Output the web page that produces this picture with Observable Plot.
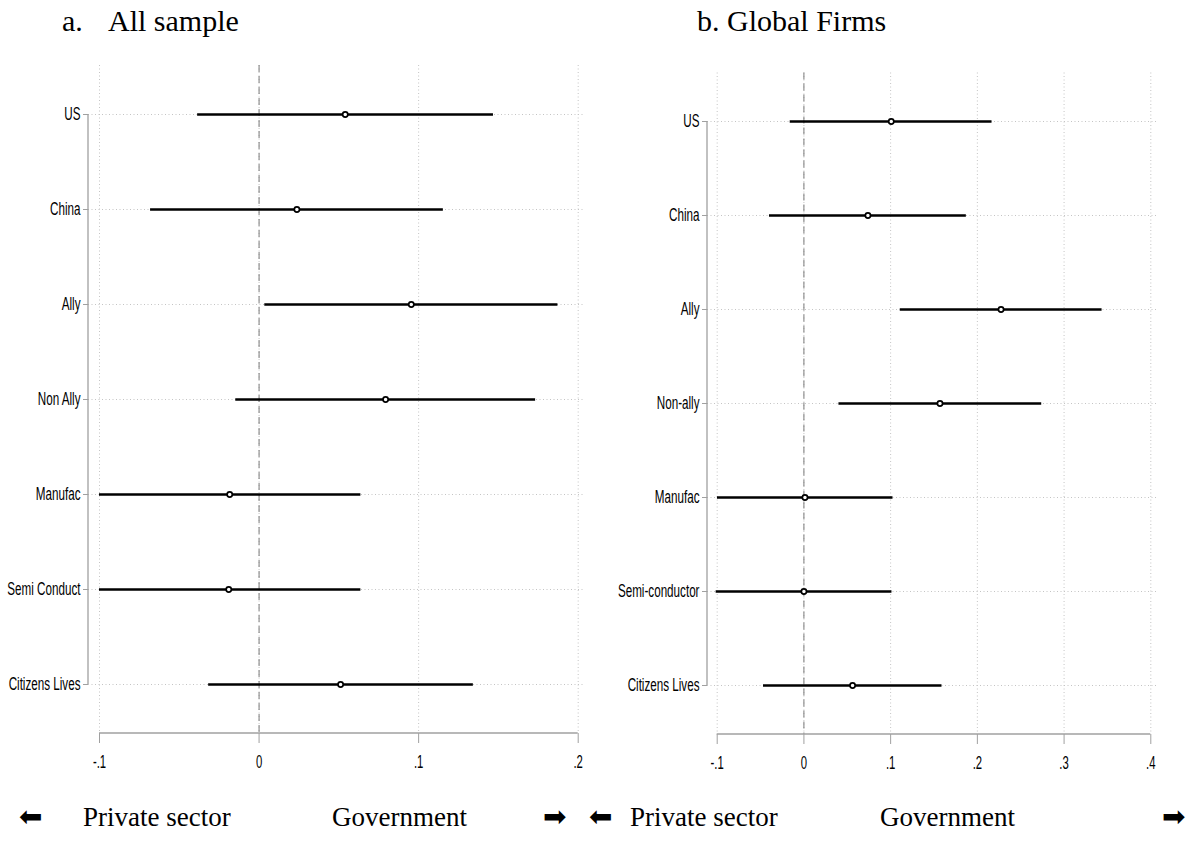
<!DOCTYPE html>
<html><head><meta charset="utf-8">
<script src="https://cdn.jsdelivr.net/npm/d3@7"></script>
<script src="https://cdn.jsdelivr.net/npm/@observablehq/plot@0.6"></script>
<style>
body{margin:0;background:#fff;}
#page{position:relative;width:1194px;height:841px;overflow:hidden;font-family:"Liberation Serif","Times New Roman",serif;color:#000;background:#fff;}
.panel{position:absolute;top:0;}
.t{position:absolute;font-size:27px;white-space:nowrap;line-height:1;}
.h{position:absolute;font-size:30px;white-space:nowrap;line-height:1;}
.arrow{position:absolute;font-family:"DejaVu Sans",sans-serif;font-size:28px;line-height:1.2;white-space:nowrap;}
</style></head><body>
<div id="page">
  <div class="h" style="left:62px;top:6px">a.</div>
  <div class="h" style="left:108px;top:6px">All sample</div>
  <div class="h" style="left:697px;top:6px">b. Global Firms</div>
  <div id="pa" class="panel" style="left:0px"></div>
  <div id="pb" class="panel" style="left:597px"></div>
  <div class="arrow" style="left:19px;top:800px">⬅</div>
  <div class="t" style="left:83px;top:804px">Private sector</div>
  <div class="t" style="left:332px;top:804px">Government</div>
  <div class="arrow" style="left:543px;top:800px">➡</div>
  <div class="arrow" style="left:589px;top:800px">⬅</div>
  <div class="t" style="left:630px;top:804px">Private sector</div>
  <div class="t" style="left:880px;top:804px">Government</div>
  <div class="arrow" style="left:1162px;top:800px">➡</div>
</div>
<script>
// Panel a: All sample
const categoriesA = ["US", "China", "Ally", "Non Ally", "Manufac", "Semi Conduct", "Citizens Lives"];
const estimateA = [0.054, 0.0237, 0.0954, 0.0793, -0.0184, -0.019, 0.0511];
const lowerA = [-0.0385, -0.068, 0.0036, -0.0146, -0.1, -0.1, -0.0316];
const upperA = [0.1469, 0.1155, 0.1873, 0.1733, 0.0638, 0.0638, 0.1343];
const ticksA = [-0.1, 0, 0.1, 0.2];
const tickLabelsA = ["-.1", "0", ".1", ".2"];

// Panel b: Global Firms
const categoriesB = ["US", "China", "Ally", "Non-ally", "Manufac", "Semi-conductor", "Citizens Lives"];
const estimateB = [0.1007, 0.0738, 0.2273, 0.1569, 0.0012, 0.0, 0.0561];
const lowerB = [-0.0158, -0.0397, 0.1111, 0.0404, -0.0997, -0.1012, -0.0466];
const upperB = [0.2169, 0.1873, 0.3438, 0.2742, 0.1027, 0.1015, 0.1592];
const ticksB = [-0.1, 0, 0.1, 0.2, 0.3, 0.4];
const tickLabelsB = ["-.1", "0", ".1", ".2", ".3", ".4"];

function panel(cats, est, lo, hi, ticks, tickLabels, layout) {
  const rows = cats.map((c, i) => ({cat: c, est: est[i], lo: lo[i], hi: hi[i]}));
  const gridStyle = {stroke: "#c4c4c4", strokeOpacity: 1, strokeWidth: 1, strokeDasharray: "1,2.5"};
  const axisLines = (index, scales, values, dim) => {
    const g = d3.create("svg:g").attr("stroke", "#a0a0a0").attr("stroke-width", 1.3).attr("fill", "none");
    const yb = dim.height - dim.marginBottom;
    g.append("line").attr("x1", scales.x(ticks[0])).attr("x2", scales.x(ticks[ticks.length - 1]))
      .attr("y1", yb).attr("y2", yb);
    g.append("line").attr("x1", dim.marginLeft).attr("x2", dim.marginLeft)
      .attr("y1", scales.y(cats[0])).attr("y2", scales.y(cats[cats.length - 1]));
    return g.node();
  };
  const svg = Plot.plot({
    width: layout.width, height: 800,
    marginLeft: layout.marginLeft, marginRight: layout.marginRight,
    marginTop: layout.marginTop, marginBottom: layout.marginBottom,
    style: {fontFamily: "'Liberation Sans', Arial, sans-serif", fontSize: "18px", background: "transparent", color: "black"},
    x: {domain: [ticks[0], ticks[ticks.length - 1]], insetLeft: layout.insetLeft, insetRight: layout.insetRight, label: null},
    y: {type: "point", domain: cats, padding: 0.5, label: null},
    marks: [
      Plot.gridX(ticks, gridStyle),
      Plot.gridY(cats, gridStyle),
      Plot.ruleX([0], {stroke: "#7a7a7a", strokeWidth: 1, strokeDasharray: "7,4"}),
      Plot.ruleY(rows, {y: "cat", x1: "lo", x2: "hi", stroke: "black", strokeWidth: 2.6}),
      Plot.dot(rows, {x: "est", y: "cat", r: 2.6, stroke: "black", strokeWidth: 1.7, fill: "white"}),
      axisLines,
      Plot.axisY(cats, {anchor: "left", label: null, tickSize: 5, tickPadding: 3, stroke: "#a0a0a0", fill: "black", fontSize: 18.5}),
      Plot.axisX(ticks, {anchor: "bottom", label: null, tickSize: 10, tickPadding: 12, stroke: "#a0a0a0", fill: "black", fontSize: 18,
        tickFormat: d => tickLabels[ticks.indexOf(d)]})
    ]
  });
  svg.querySelectorAll("text").forEach(t => {
    const tr = t.getAttribute("transform") || "";
    const x = +(t.getAttribute("x") || 0);
    t.setAttribute("transform", `${tr} translate(${x},0) scale(0.63,1) translate(${-x},0)`);
  });
  return svg;
}

document.getElementById("pa").append(panel(categoriesA, estimateA, lowerA, upperA, ticksA, tickLabelsA,
  {width: 597, marginLeft: 88, marginRight: 12, marginTop: 65, marginBottom: 67, insetLeft: 11, insetRight: 7.3}));
document.getElementById("pb").append(panel(categoriesB, estimateB, lowerB, upperB, ticksB, tickLabelsB,
  {width: 597, marginLeft: 110, marginRight: 36, marginTop: 72.5, marginBottom: 66, insetLeft: 9.7, insetRight: 7.7}));
</script>
</body></html>
